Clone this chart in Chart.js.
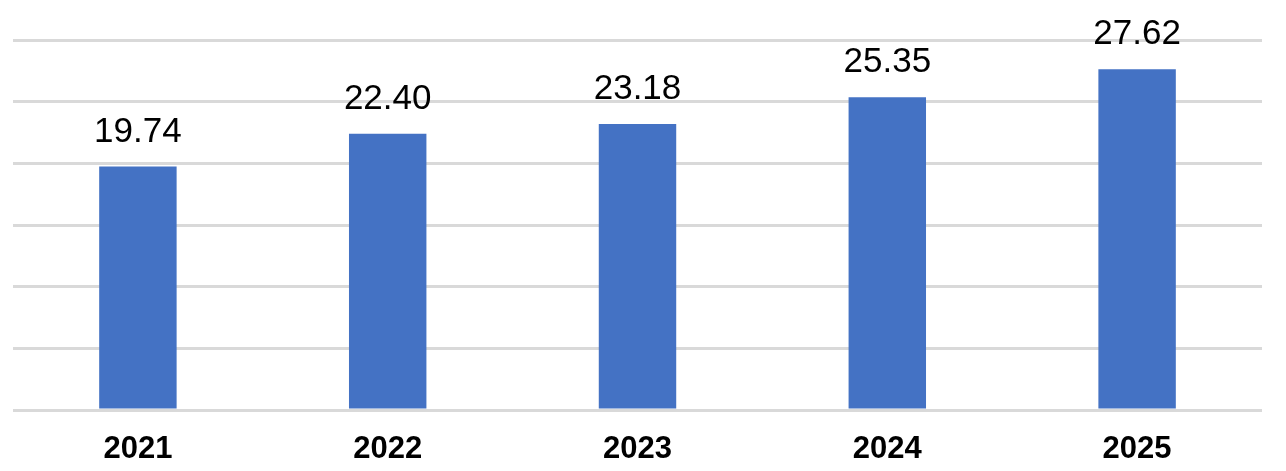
<!DOCTYPE html>
<html>
<head>
<meta charset="utf-8">
<script src="https://cdn.jsdelivr.net/npm/chart.js@4/dist/chart.umd.min.js"></script>
<style>
  body { margin: 0; background: #fff; }
</style>
</head>
<body>
<canvas id="grafico" width="1286" height="471"></canvas>
<script>
const anios = ['2021', '2022', '2023', '2024', '2025'];
const valores = [19.74, 22.40, 23.18, 25.35, 27.62];

// etiquetas encima de cada barra
const etiquetasValor = {
    id: 'etiquetasValor',
    afterDatasetsDraw(chart) {
        const ctx = chart.ctx;
        const meta = chart.getDatasetMeta(0);
        ctx.save();
        ctx.font = '35px "Liberation Sans", Arial, sans-serif';
        ctx.fillStyle = '#000';
        ctx.textAlign = 'center';
        ctx.textBaseline = 'alphabetic';
        meta.data.forEach((barra, i) => {
            ctx.fillText(valores[i].toFixed(2), barra.x, barra.y - 25);
        });
        ctx.restore();
    }
};

const ctx = document.getElementById('grafico');
new Chart(ctx, {
    type: 'bar',
    data: {
        labels: anios,
        datasets: [{
            data: valores,
            backgroundColor: '#4472c4',
            categoryPercentage: 1,
            barPercentage: 0.31
        }]
    },
    options: {
        responsive: false,
        animation: false,
        layout: { padding: { left: 13, right: 24, top: 40, bottom: 0 } },
        plugins: { legend: { display: false }, tooltip: { enabled: false } },
        scales: {
            x: {
                grid: { display: false },
                border: { display: false },
                ticks: {
                    color: '#000',
                    padding: 13,
                    font: { family: '"Liberation Sans", Arial, sans-serif', size: 31, weight: 'bold' }
                },
                afterFit(scale) { scale.height = 61; }
            },
            y: {
                min: 0,
                max: 30,
                ticks: { display: false, stepSize: 5 },
                border: { display: false },
                grid: { color: '#d9d9d9', lineWidth: 3, drawTicks: false }
            }
        }
    },
    plugins: [etiquetasValor]
});
</script>
</body>
</html>
